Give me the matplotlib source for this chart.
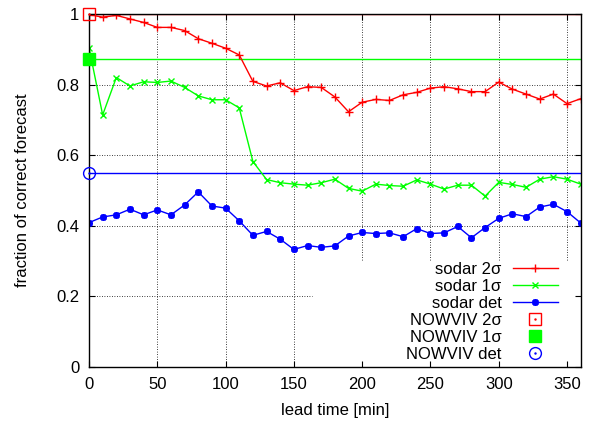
import numpy as np
import matplotlib.pyplot as plt

plt.rcParams['font.family'] = ['Liberation Sans', 'DejaVu Sans']

# lead time in minutes
lead = np.arange(0, 361, 10)

sodar_2s = [0.998, 0.991, 0.996, 0.986, 0.976, 0.962, 0.962, 0.953, 0.930, 0.917,
            0.903, 0.884, 0.809, 0.796, 0.805, 0.783, 0.794, 0.792, 0.765, 0.723,
            0.750, 0.758, 0.755, 0.771, 0.778, 0.790, 0.794, 0.788, 0.780, 0.780,
            0.807, 0.787, 0.773, 0.759, 0.773, 0.746, 0.760]
sodar_1s = [0.905, 0.714, 0.820, 0.796, 0.808, 0.806, 0.810, 0.792, 0.768, 0.757,
            0.757, 0.734, 0.582, 0.531, 0.522, 0.518, 0.515, 0.522, 0.532, 0.506,
            0.498, 0.518, 0.514, 0.512, 0.530, 0.518, 0.504, 0.515, 0.515, 0.484,
            0.523, 0.517, 0.509, 0.532, 0.539, 0.532, 0.518]
sodar_det = [0.409, 0.425, 0.431, 0.447, 0.431, 0.445, 0.431, 0.459, 0.496, 0.456,
             0.450, 0.414, 0.373, 0.384, 0.362, 0.333, 0.344, 0.339, 0.343, 0.371,
             0.381, 0.378, 0.380, 0.369, 0.392, 0.378, 0.380, 0.398, 0.366, 0.395,
             0.421, 0.434, 0.426, 0.453, 0.461, 0.440, 0.408]

nowviv_2s = 1.0
nowviv_1s = 0.872
nowviv_det = 0.55

xticks = [0, 50, 100, 150, 200, 250, 300, 350]
yticks = [0, 0.2, 0.4, 0.6, 0.8, 1]
ytick_labels = ['0', '0.2', '0.4', '0.6', '0.8', '1']

RED, GREEN, BLUE = '#ff0000', '#00ff00', '#0000ff'
FS = 12

fig = plt.figure(figsize=(5.89, 4.21), dpi=100)
ax = fig.add_axes([0.1511, 0.1283, 0.8348, 0.8385])
ax.set_xlim(0, 360)
ax.set_ylim(0, 1)

# grid, blanked where the key sits (gnuplot style)
grid_kw = dict(color='black', lw=0.6, linestyles=(0, (1, 2)), zorder=0.5)
for xv in xticks[1:]:
    ymin = 0 if xv < 200 else 0.303
    ax.vlines(xv, ymin, 1, **grid_kw)
for yv in yticks[1:-1]:
    xmax = 163 if yv < 0.3 else 360
    ax.hlines(yv, 0, xmax, **grid_kw)

# NOWVIV reference lines
ax.axhline(nowviv_2s, color=RED, lw=1.0, zorder=2)
ax.axhline(nowviv_1s, color=GREEN, lw=1.0, zorder=2)
ax.axhline(nowviv_det, color=BLUE, lw=1.0, zorder=2)

l1, = ax.plot(lead, sodar_2s, color=RED, lw=1.0, marker='+', ms=6, mew=1.0)
l2, = ax.plot(lead, sodar_1s, color=GREEN, lw=1.0, marker='x', ms=4.5, mew=1.0)
l3, = ax.plot(lead, sodar_det, color=BLUE, lw=1.0, marker=(8, 2, 0), ms=5, mew=1.3)

p1, = ax.plot([0], [nowviv_2s], ls='none', marker='s', ms=8, mfc='none', mec=RED, mew=1.0, clip_on=False, zorder=4)
d1, = ax.plot([0], [nowviv_2s], ls='none', marker='.', ms=1.5, color=RED, clip_on=False, zorder=4)
p2, = ax.plot([0], [nowviv_1s], ls='none', marker='s', ms=8, color=GREEN, clip_on=False, zorder=4)
p3, = ax.plot([0], [nowviv_det], ls='none', marker='o', ms=8.5, mfc='none', mec=BLUE, mew=1.0, clip_on=False, zorder=4)
d3, = ax.plot([0], [nowviv_det], ls='none', marker='.', ms=1.5, color=BLUE, clip_on=False, zorder=4)

leg = ax.legend([l1, l2, l3, (p1, d1), p2, (p3, d3)],
                ['sodar 2σ', 'sodar 1σ', 'sodar det', 'NOWVIV 2σ', 'NOWVIV 1σ', 'NOWVIV det'],
                loc='lower right', bbox_to_anchor=(0.963, 0.0), markerfirst=False,
                frameon=False, fontsize=FS, handlelength=2.7, handletextpad=0.65,
                labelspacing=0.12, borderpad=0.3, borderaxespad=0)

ax.set_xticks(xticks)
ax.set_yticks(yticks)
ax.set_yticklabels(ytick_labels)
ax.tick_params(direction='in', length=4.5, width=0.8, top=True, right=True,
               labelsize=FS, pad=7, colors='black')
for s in ax.spines.values():
    s.set_linewidth(1.0)

ax.set_xlabel('lead time [min]', fontsize=FS, labelpad=8)
ax.set_ylabel('fraction of correct forecast', fontsize=FS, labelpad=19)

fig.savefig('out.png', dpi=100)
